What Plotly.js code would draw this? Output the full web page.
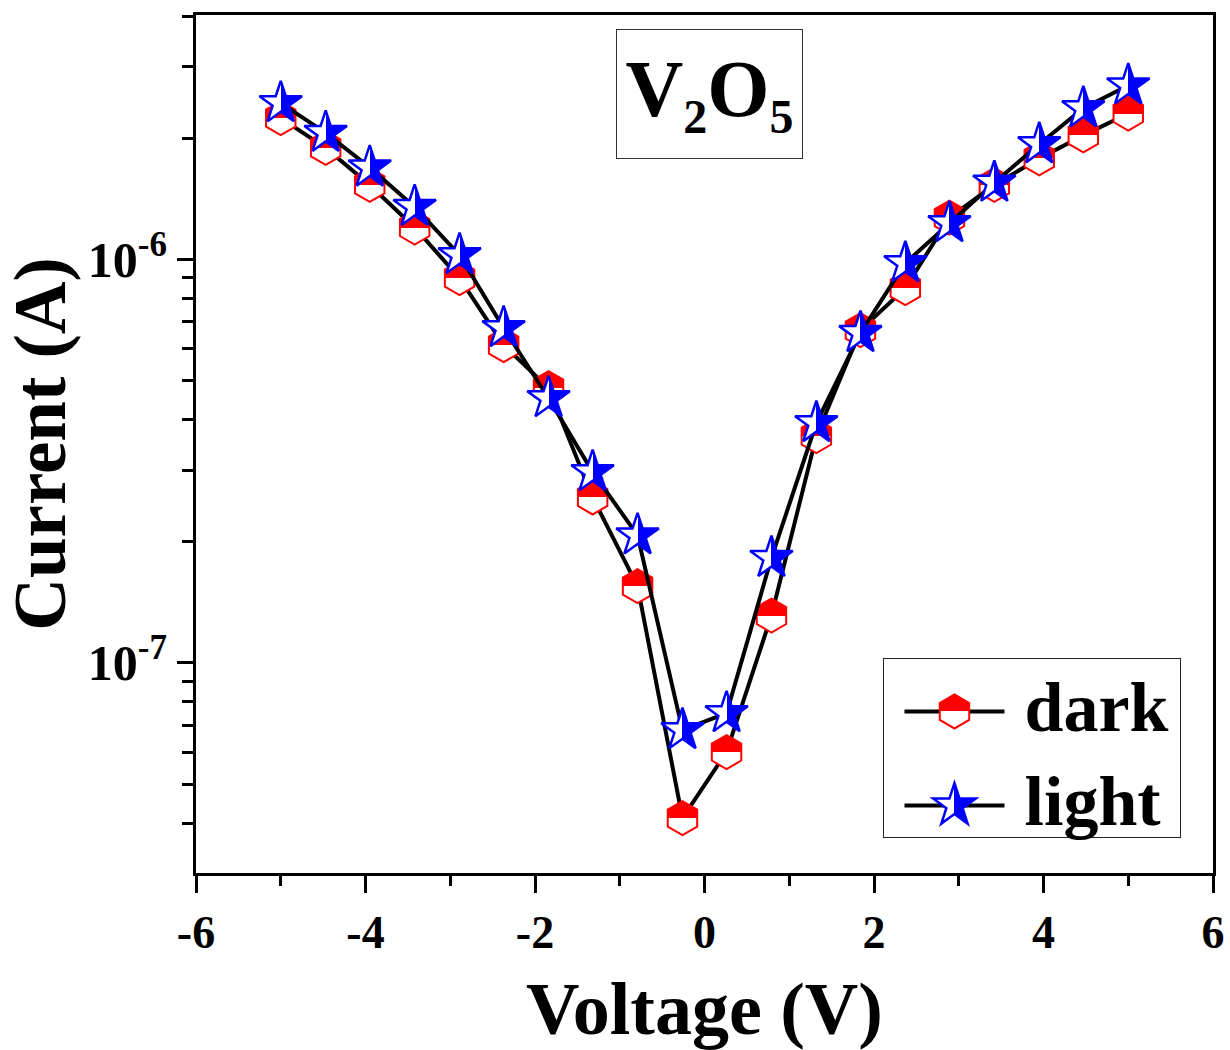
<!DOCTYPE html>
<html><head><meta charset="utf-8">
<script src="https://cdn.plot.ly/plotly-3.0.1.min.js"></script>
<style>html,body{margin:0;padding:0;background:#fff;}</style>
</head><body>
<div id="chart" style="width:1230px;height:1050px;"></div>
<script>
// ---- data ----
const voltage = [-5, -4.47, -3.95, -3.42, -2.89, -2.37, -1.84, -1.32, -0.79, -0.26,
                 0.26, 0.79, 1.32, 1.84, 2.37, 2.89, 3.42, 3.95, 4.47, 5];
const darkCurrent = [2.24e-6, 1.89e-6, 1.53e-6, 1.20e-6, 8.99e-7, 6.13e-7, 4.80e-7, 2.57e-7, 1.55e-7, 4.12e-8,
                     6.01e-8, 1.31e-7, 3.65e-7, 6.68e-7, 8.49e-7, 1.27e-6, 1.53e-6, 1.78e-6, 2.03e-6, 2.30e-6];
const lightCurrent = [2.44e-6, 2.06e-6, 1.69e-6, 1.35e-6, 1.025e-6, 6.76e-7, 4.53e-7, 2.97e-7, 2.07e-7, 6.81e-8,
                      7.50e-8, 1.82e-7, 3.93e-7, 6.57e-7, 9.79e-7, 1.23e-6, 1.55e-6, 1.93e-6, 2.37e-6, 2.70e-6];
const seriesNames = ['dark', 'light'];
const xTickVals = [-6, -4, -2, 0, 2, 4, 6];
const xTickText = ['-6', '-4', '-2', '0', '2', '4', '6'];
const xMinorVals = [-5, -3, -1, 1, 3, 5];
const yTickVals = [1e-7, 1e-6];
const yTickText = ['10<sup>-7</sup>', '10<sup>-6</sup>'];
const yMinorVals = [3e-8, 4e-8, 5e-8, 6e-8, 7e-8, 8e-8, 9e-8,
                    2e-7, 3e-7, 4e-7, 5e-7, 6e-7, 7e-7, 8e-7, 9e-7,
                    2e-6, 3e-6, 4e-6];
const xTitle = 'Voltage (V)';
const yTitle = 'Current (A)';
const labelText = 'V<sub><span style="font-size:48px">2</span></sub>O<sub><span style="font-size:48px">5</span></sub>';

const FONT = '"Liberation Serif", "Times New Roman", Times, serif';

const traces = [
  {
    x: voltage, y: darkCurrent, name: seriesNames[0], uid: 'dark',
    type: 'scatter', mode: 'lines+markers',
    line: {color: '#000', width: 4},
    marker: {symbol: 'hexagon', size: 34, color: 'rgb(255,0,0)',
             line: {color: 'rgb(255,0,0)', width: 2},
             gradient: {type: 'vertical', color: 'rgb(255,255,255)'}}
  },
  {
    x: voltage, y: lightCurrent, name: seriesNames[1], uid: 'light',
    type: 'scatter', mode: 'lines+markers',
    line: {color: '#000', width: 4},
    marker: {symbol: 'star', size: 32, color: 'rgb(0,0,255)',
             line: {color: 'rgb(0,0,255)', width: 2.5},
             gradient: {type: 'horizontal', color: 'rgb(255,255,255)'}}
  }
];

const axisCommon = {
  ticks: 'outside', tickwidth: 3, tickcolor: '#000',
  showline: true, linewidth: 3, linecolor: '#000', mirror: true,
  showgrid: false, zeroline: false
};

const layout = {
  width: 1230, height: 1050,
  margin: {l: 196, r: 17, t: 15, b: 177},
  paper_bgcolor: '#fff', plot_bgcolor: '#fff',
  font: {family: FONT, color: '#000'},
  showlegend: true,
  legend: {
    x: 0.6755, y: 0.2506, xanchor: 'left', yanchor: 'top',
    bordercolor: '#222', borderwidth: 1.5, bgcolor: '#fff',
    font: {family: FONT, size: 70, color: '#000', weight: 'bold'},
    itemwidth: 100, tracegroupgap: 0
  },
  xaxis: Object.assign({}, axisCommon, {
    range: [-6, 6], tickmode: 'array', tickvals: xTickVals, ticktext: xTickText, ticklen: 17,
    tickfont: {family: FONT, size: 46, color: '#000', weight: 'bold'},
    minor: {tickmode: 'array', tickvals: xMinorVals, ticks: 'outside', ticklen: 10, tickwidth: 3, tickcolor: '#000', showgrid: false},
    title: {text: xTitle, font: {family: FONT, size: 74, color: '#000', weight: 'bold'}, standoff: 72}
  }),
  yaxis: Object.assign({}, axisCommon, {
    type: 'log', range: [-7.521, -5.394], tickmode: 'array', tickvals: yTickVals, ticktext: yTickText, ticklen: 16,
    tickfont: {family: FONT, size: 50, color: '#000', weight: 'bold'},
    minor: {tickmode: 'array', tickvals: yMinorVals, ticks: 'outside', ticklen: 11, tickwidth: 3, tickcolor: '#000', showgrid: false},
    title: {text: yTitle, font: {family: FONT, size: 73, color: '#000', weight: 'bold'}, standoff: 10}
  }),
  annotations: [{
    xref: 'paper', yref: 'paper', x: 0.505, y: 0.908, xanchor: 'center', yanchor: 'middle',
    text: labelText, showarrow: false,
    font: {family: FONT, size: 80, color: '#000', weight: 'bold'},
    bordercolor: '#333', borderwidth: 1, width: 183, height: 126, bgcolor: '#fff'
  }]
};

function colorOf(stop) {
  return (stop.getAttribute('stop-color') || stop.style.stopColor || '').replace(/\s/g, '');
}

function splitMarkers(gd) {
  const NS = 'http://www.w3.org/2000/svg';
  gd.querySelectorAll('linearGradient').forEach(function (g) {
    const stops = Array.from(g.querySelectorAll('stop'));
    const cols = stops.map(colorOf).join('|');
    let spec = null;
    if (cols.indexOf('255,0,0') >= 0 || /red|#f00/i.test(cols)) {
      spec = {x1: 0, y1: 0, x2: 0, y2: 1, a: 'rgb(255,0,0)', b: 'rgb(255,255,255)'};
    } else if (cols.indexOf('0,0,255') >= 0 || /blue|#00f/i.test(cols)) {
      spec = {x1: 0, y1: 0, x2: 1, y2: 0, a: 'rgb(255,255,255)', b: 'rgb(0,0,255)'};
    }
    if (!spec) return;
    g.removeAttribute('gradientTransform');
    g.setAttribute('x1', spec.x1); g.setAttribute('y1', spec.y1);
    g.setAttribute('x2', spec.x2); g.setAttribute('y2', spec.y2);
    stops.forEach(function (s) { s.remove(); });
    [[0, spec.a], [0.5, spec.a], [0.5, spec.b], [1, spec.b]].forEach(function (p) {
      const s = document.createElementNS(NS, 'stop');
      s.setAttribute('offset', p[0]);
      s.setAttribute('stop-color', p[1]);
      s.setAttribute('stop-opacity', 1);
      g.appendChild(s);
    });
  });
  // legend symbols: long sample line, full-size markers, text further right
  const legendTraces = gd.querySelectorAll('.legend .traces');
  const plotTraces = gd.querySelectorAll('.scatterlayer .trace');
  legendTraces.forEach(function (lt, i) {
    const ln = lt.querySelector('.legendlines path');
    if (ln) ln.setAttribute('d', 'M20,0h100');
    const pt = lt.querySelector('.legendpoints path.scatterpts');
    if (pt) {
      pt.setAttribute('transform', 'translate(70,0)');
      const src = plotTraces[i] && plotTraces[i].querySelector('path.point');
      if (src) pt.setAttribute('d', src.getAttribute('d'));
    }
    const tx = lt.querySelector('text.legendtext');
    if (tx) {
      tx.setAttribute('x', 140);
      const y0 = parseFloat(tx.getAttribute('y')) || 0;
      tx.setAttribute('y', y0 - 8);
    }
  });
  const bg = gd.querySelector('.legend rect.bg');
  if (bg) { bg.setAttribute('width', 297); bg.setAttribute('height', 179); }
  // widen the legend clip so the longer entries are not cut
  gd.querySelectorAll('clipPath').forEach(function (cp) {
    if ((cp.id || '').indexOf('legend') === 0) {
      const r = cp.querySelector('rect');
      if (r) { r.setAttribute('width', 400); r.setAttribute('height', 300); }
    }
  });
}

Plotly.newPlot('chart', traces, layout, {staticPlot: true, displayModeBar: false})
  .then(splitMarkers);
</script>
</body></html>
